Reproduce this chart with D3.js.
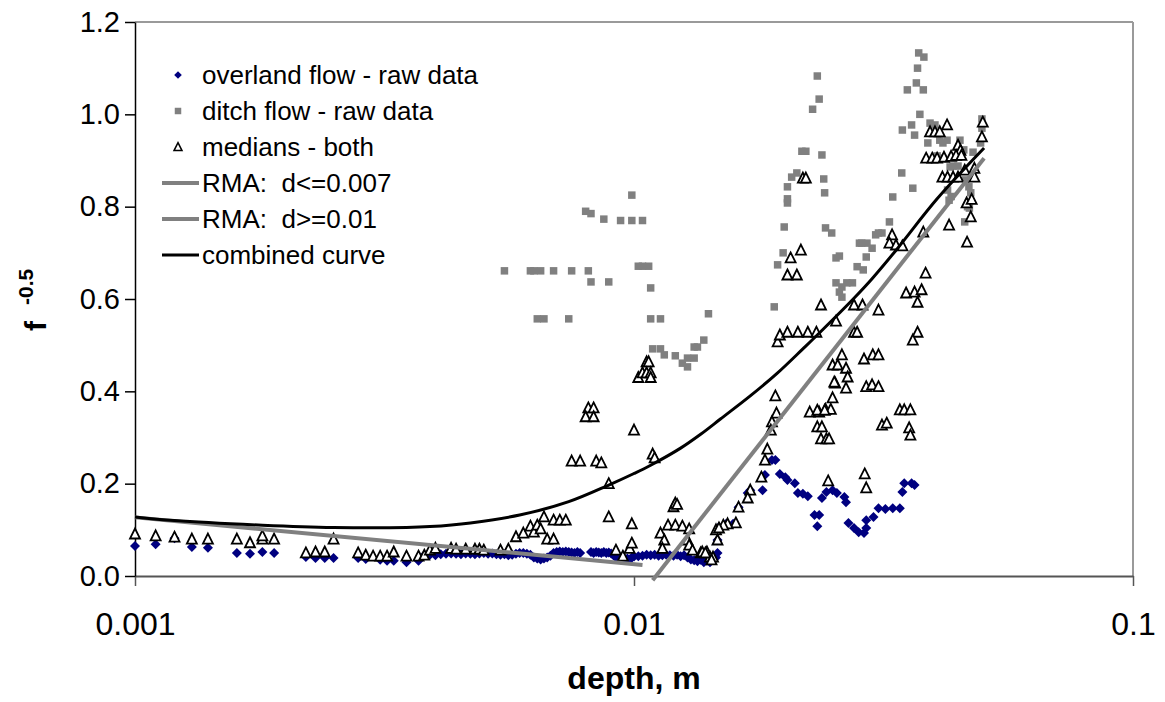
<!DOCTYPE html>
<html><head><meta charset="utf-8">
<script src="https://cdn.jsdelivr.net/npm/d3@7"></script>
<style>body{margin:0;background:#fff}</style>
</head><body><svg id="c" width="1165" height="702"></svg>
<script>
const xTicks = [0.001, 0.01, 0.1];
const yTicks = [0, 0.2, 0.4, 0.6, 0.8, 1.0, 1.2];
const legendLabels = ["overland flow - raw data", "ditch flow - raw data", "medians - both", "RMA:  d<=0.007", "RMA:  d>=0.01", "combined curve"];

const overland = [
[0.0010,0.065],[0.0011,0.069],[0.0012,0.082],[0.0013,0.063],[0.0014,0.061],[0.0016,0.050],[0.0017,0.048],[0.0018,0.052],[0.0019,0.050],[0.0022,0.041],[0.0023,0.039],[0.0024,0.039],[0.0025,0.039],[0.0028,0.039],[0.0029,0.037],[0.0031,0.035],[0.0032,0.033],[0.0033,0.033],[0.0035,0.030],[0.0037,0.033],
[0.0038,0.045],[0.0039,0.046],[0.0040,0.045],[0.0041,0.047],[0.0042,0.048],[0.0043,0.049],[0.0044,0.048],[0.0045,0.047],[0.0046,0.049],[0.0047,0.048],[0.0048,0.047],[0.0049,0.049],[0.0050,0.050],[0.0051,0.048],[0.0052,0.049],[0.0053,0.047],[0.0054,0.046],[0.0055,0.047],[0.0056,0.045],[0.0057,0.046],[0.0058,0.048],[0.0059,0.050],[0.0060,0.050],[0.0061,0.048],[0.0062,0.046],[0.0063,0.040],[0.0064,0.038],[0.0065,0.036],[0.0066,0.038],[0.0067,0.040],[0.0068,0.044],[0.0069,0.050],[0.0070,0.052],[0.0071,0.053],[0.0072,0.052],[0.0073,0.053],[0.0074,0.052],[0.0075,0.051],[0.0076,0.050],[0.0077,0.052],[0.0078,0.050],[0.0082,0.052],[0.0083,0.050],[0.0084,0.052],[0.0085,0.051],[0.0086,0.050],[0.0087,0.052],[0.0088,0.050],[0.0089,0.051],[0.0090,0.049],[0.0091,0.045],[0.0092,0.040],[0.0093,0.038],[0.0094,0.036],[0.0095,0.037],[0.0096,0.035],[0.0097,0.038],[0.0098,0.036],[0.0099,0.040],[0.0100,0.042],[0.0102,0.043],[0.0104,0.044],[0.0106,0.046],[0.0108,0.045],[0.0110,0.046],[0.0112,0.044],[0.0114,0.045],[0.0116,0.046],[0.0118,0.045],[0.0120,0.044],[0.0122,0.046],[0.0124,0.043],[0.0126,0.045],[0.0128,0.040],[0.0130,0.036],[0.0132,0.034],[0.0134,0.032],[0.0136,0.035],[0.0138,0.030],[0.0140,0.033],[0.0142,0.030],[0.0144,0.035],[0.0146,0.040],
[0.0147,0.050],[0.0147,0.078],[0.0148,0.106],[0.0153,0.113],[0.0158,0.113],[0.0162,0.149],[0.0169,0.180],[0.0171,0.186],[0.0181,0.186],[0.0183,0.219],[0.0189,0.251],[0.0192,0.251],[0.0196,0.221],[0.0201,0.214],[0.0203,0.208],[0.0210,0.201],[0.0213,0.180],[0.0218,0.178],[0.0223,0.173],[0.0230,0.132],[0.0235,0.132],[0.0233,0.108],[0.0238,0.169],[0.0243,0.182],[0.0250,0.186],[0.0255,0.180],[0.0264,0.171],[0.0266,0.160],[0.0269,0.115],[0.0276,0.104],[0.0282,0.095],[0.0289,0.093],[0.0292,0.104],[0.0292,0.121],[0.0302,0.128],[0.0309,0.147],[0.0319,0.145],[0.0330,0.147],[0.0341,0.147],[0.0345,0.182],[0.0348,0.201],[0.0360,0.201],[0.0365,0.197]
];

const ditch = [
[0.0055,0.661],[0.0062,0.661],[0.0063,0.661],[0.0065,0.661],[0.0069,0.661],[0.0075,0.661],[0.0081,0.661],[0.0082,0.637],[0.0089,0.637],[0.0102,0.671],[0.0104,0.671],[0.0107,0.671],[0.0108,0.624],[0.0064,0.557],[0.0066,0.557],[0.0074,0.557],[0.0108,0.557],[0.0113,0.557],[0.0141,0.568],[0.0138,0.511],[0.0134,0.496],[0.0132,0.496],[0.0109,0.492],[0.0113,0.492],[0.0115,0.479],[0.0121,0.477],[0.0125,0.461],[0.0128,0.453],[0.0132,0.472],[0.0128,0.472],
[0.0080,0.790],[0.0082,0.785],[0.0087,0.773],[0.0094,0.770],[0.0099,0.770],[0.0104,0.770],[0.0099,0.825],
[0.0233,1.083],[0.0235,1.033],[0.0228,1.011],[0.0217,0.920],[0.0221,0.920],[0.0238,0.912],[0.0212,0.873],[0.0207,0.864],[0.0240,0.860],[0.0203,0.843],[0.0203,0.817],[0.0203,0.808],[0.0241,0.830],[0.0200,0.756],[0.0242,0.754],[0.0249,0.743],[0.0199,0.700],[0.0194,0.674],[0.0191,0.583],[0.0254,0.689],[0.0258,0.693],[0.0283,0.721],[0.0286,0.721],[0.0293,0.721],[0.0305,0.739],[0.0309,0.743],[0.0314,0.743],[0.0325,0.767],[0.0292,0.691],[0.0280,0.670],[0.0288,0.663],[0.0300,0.710],[0.0254,0.635],[0.0258,0.615],[0.0261,0.604],[0.0261,0.626],[0.0267,0.635],[0.0274,0.635],[0.0330,0.821],[0.0344,0.873],[0.0362,0.840],[0.0345,0.966],[0.0360,0.977],[0.0374,1.000],[0.0392,0.981],[0.0401,0.977],[0.0353,1.053],[0.0368,1.068],[0.0380,1.053],[0.0370,1.100],[0.0372,1.133],[0.0381,1.124],[0.0388,0.938],[0.0410,0.944],[0.0424,0.944],[0.0405,0.910],[0.0415,0.905],[0.0430,0.886],[0.0436,0.888],[0.0446,0.888],[0.0425,0.836],[0.0432,0.822],[0.0458,0.923],[0.0478,0.918],[0.0498,0.990],[0.0498,0.970],[0.0469,0.843],[0.0466,0.800],[0.0460,0.767],[0.0416,0.938],[0.0365,0.955],[0.0428,0.814],[0.0462,0.858],[0.0473,0.830],[0.0470,0.797],[0.0495,0.938],[0.0450,0.944]
];

const medians = [
[0.0010,0.091],[0.0011,0.087],[0.0012,0.084],[0.0013,0.080],[0.0014,0.080],[0.0016,0.080],[0.0017,0.072],[0.0018,0.080],[0.0018,0.087],[0.0019,0.080],[0.0022,0.050],[0.0023,0.052],[0.0024,0.052],[0.0025,0.080],[0.0028,0.050],[0.0029,0.045],[0.0030,0.043],[0.0031,0.043],[0.0032,0.043],[0.0033,0.052],[0.0035,0.043],[0.0037,0.043],[0.0038,0.045],
[0.0039,0.056],[0.0040,0.060],[0.0043,0.060],[0.0044,0.058],[0.0046,0.058],[0.0048,0.058],[0.0049,0.058],[0.0050,0.056],[0.0054,0.056],[0.0056,0.058],[0.0058,0.085],[0.0060,0.093],[0.0062,0.108],[0.0063,0.095],[0.0064,0.110],[0.0065,0.102],[0.0066,0.128],[0.0067,0.080],[0.0069,0.080],[0.0069,0.121],[0.0071,0.121],[0.0073,0.121],[0.0089,0.200],[0.0089,0.128],[0.0099,0.113],[0.0120,0.150],[0.0121,0.158],[0.0122,0.155],[0.0113,0.093],[0.0115,0.078],[0.0117,0.110],[0.0121,0.110],[0.0125,0.108],[0.0129,0.102],[0.0114,0.060],[0.0092,0.056],[0.0095,0.043],[0.0098,0.060],[0.0099,0.071],[0.0128,0.078],[0.0129,0.067],[0.0131,0.056],[0.0136,0.050],[0.0137,0.052],[0.0140,0.052],[0.0142,0.041],[0.0144,0.041],[0.0146,0.100],
[0.0075,0.249],[0.0078,0.249],[0.0084,0.249],[0.0086,0.245],[0.0081,0.364],[0.0083,0.364],[0.0080,0.345],[0.0083,0.345],[0.0100,0.316],[0.0106,0.464],[0.0107,0.464],[0.0102,0.430],[0.0104,0.440],[0.0106,0.440],[0.0108,0.440],[0.0108,0.430],[0.0109,0.264],[0.0110,0.256],
[0.0192,0.390],[0.0193,0.353],[0.0189,0.334],[0.0188,0.316],[0.0185,0.275],[0.0183,0.251],[0.0180,0.214],[0.0171,0.186],[0.0169,0.169],[0.0162,0.149],[0.0160,0.115],[0.0154,0.113],[0.0151,0.110],[0.0148,0.104],[0.0147,0.078],[0.0139,0.050],[0.0143,0.035],
[0.0225,0.355],[0.0235,0.355],[0.0242,0.361],[0.0248,0.361],[0.0250,0.386],[0.0233,0.323],[0.0238,0.323],[0.0237,0.297],[0.0243,0.297],[0.0246,0.297],[0.0266,0.407],[0.0292,0.410],[0.0300,0.414],[0.0309,0.410],[0.0253,0.418],[0.0314,0.327],[0.0321,0.331],[0.0356,0.321],[0.0358,0.305],[0.0341,0.360],[0.0348,0.360],[0.0358,0.360],[0.0245,0.206],[0.0290,0.221],[0.0292,0.191],
[0.0218,0.862],[0.0221,0.862],[0.0216,0.706],[0.0206,0.689],[0.0203,0.652],[0.0212,0.652],[0.0237,0.587],[0.0194,0.507],[0.0196,0.522],[0.0203,0.528],[0.0213,0.528],[0.0223,0.528],[0.0232,0.528],[0.0254,0.552],[0.0276,0.528],[0.0280,0.528],[0.0276,0.587],[0.0287,0.587],[0.0309,0.576],[0.0329,0.739],[0.0325,0.721],[0.0335,0.717],[0.0345,0.715],[0.0380,0.745],[0.0428,0.760],[0.0465,0.723],[0.0384,0.656],[0.0351,0.613],[0.0365,0.615],[0.0377,0.620],[0.0370,0.593],[0.0370,0.528],[0.0362,0.511],[0.0261,0.479],[0.0250,0.457],[0.0256,0.457],[0.0266,0.450],[0.0268,0.431],[0.0252,0.420],[0.0289,0.470],[0.0301,0.479],[0.0309,0.479],[0.0233,0.359],[0.0241,0.359],
[0.0424,0.977],[0.0392,0.962],[0.0401,0.962],[0.0410,0.962],[0.0446,0.933],[0.0451,0.922],[0.0385,0.905],[0.0396,0.905],[0.0405,0.905],[0.0418,0.907],[0.0432,0.909],[0.0442,0.911],[0.0453,0.911],[0.0415,0.864],[0.0425,0.864],[0.0436,0.864],[0.0446,0.864],[0.0460,0.879],[0.0481,0.864],[0.0500,0.983],[0.0498,0.951],[0.0481,0.883],[0.0464,0.808],[0.0475,0.816],[0.0473,0.778]
];

const rmaSmallDepth = [0.001, 0.0104];
const rmaSmallValue = [0.127, 0.024];
const rmaLargeDepth = [0.0109, 0.0503];
const rmaLargeValue = [-0.009, 0.905];
const combinedDepth = [0.001,0.0012,0.0018,0.0025,0.0035,0.0039,0.0047,0.0059,0.0074,0.0089,0.01,0.0108,0.0124,0.0136,0.0149,0.0171,0.0194,0.0218,0.0236,0.0275,0.03,0.0337,0.0405,0.0503];
const combinedValue = [0.128,0.120,0.110,0.105,0.105,0.107,0.115,0.132,0.161,0.197,0.222,0.24,0.277,0.307,0.34,0.39,0.44,0.492,0.528,0.60,0.644,0.709,0.817,0.927];

const FONT = "'Liberation Sans', Arial, sans-serif";
const svg = d3.select("#c");
const x = d3.scaleLog().domain([0.001, 0.1]).range([135, 1133]);
const y = d3.scaleLinear().domain([0, 1.2]).range([576, 22]);

// plot frame (top/right)
svg.append("line").attr("x1", x(0.001)).attr("x2", x(0.1)).attr("y1", y(1.2)).attr("y2", y(1.2)).attr("stroke", "#9a9a9a").attr("stroke-width", 2);
svg.append("line").attr("x1", x(0.1)).attr("x2", x(0.1)).attr("y1", y(1.2)).attr("y2", y(0)).attr("stroke", "#9a9a9a").attr("stroke-width", 2);

// axes
const gx = svg.append("g").attr("transform", `translate(0,${y(0)})`)
  .call(d3.axisBottom(x).tickValues(xTicks).tickSize(10).tickSizeOuter(0).tickPadding(26).tickFormat(d => String(d)));
gx.select(".domain").attr("stroke", "#555").attr("stroke-width", 2);
gx.selectAll(".tick line").attr("stroke", "#555").attr("stroke-width", 1.5);
gx.selectAll("text").attr("font-family", FONT).attr("font-size", 32).attr("fill", "#000");

const gy = svg.append("g").attr("transform", `translate(${x(0.001)},0)`)
  .call(d3.axisLeft(y).tickValues(yTicks).tickSize(10).tickSizeOuter(0).tickPadding(5).tickFormat(d3.format(".1f")));
gy.select(".domain").attr("stroke", "#000").attr("stroke-width", 1.5);
gy.selectAll(".tick line").attr("stroke", "#000").attr("stroke-width", 1.5);
gy.selectAll("text").attr("font-family", FONT).attr("font-size", 29).attr("fill", "#000");

// titles
svg.append("text").attr("x", 634).attr("y", 689).attr("text-anchor", "middle")
  .attr("font-family", FONT).attr("font-size", 32).attr("font-weight", "bold").text("depth, m");
const yt = svg.append("text").attr("transform", "translate(46,331) rotate(-90)")
  .attr("font-family", FONT).attr("font-weight", "bold").attr("font-size", 30);
yt.append("tspan").text("f");
yt.append("tspan").attr("dx", 16).attr("dy", -13).attr("font-size", 21).text("-0.5");

// marker shapes
const diamondPath = r => `M0,${-r}L${r},0L0,${r}L${-r},0Z`;
const squarePath = s => `M${-s/2},${-s/2}h${s}v${s}h${-s}Z`;
const trianglePath = s => `M0,${-s*0.55}L${s/2},${s*0.45}L${-s/2},${s*0.45}Z`;

svg.append("g").selectAll("path").data(overland).join("path")
  .attr("d", diamondPath(5)).attr("transform", d => `translate(${x(d[0])},${y(d[1])})`)
  .attr("fill", "#000080");
svg.append("g").selectAll("path").data(ditch).join("path")
  .attr("d", squarePath(7.5)).attr("transform", d => `translate(${x(d[0])},${y(d[1])})`)
  .attr("fill", "#808080");
svg.append("g").selectAll("path").data(medians).join("path")
  .attr("d", trianglePath(10)).attr("transform", d => `translate(${x(d[0])},${y(d[1])})`)
  .attr("fill", "#fff").attr("stroke", "#000").attr("stroke-width", 1.8);

// lines
const line = d3.line().x(d => x(d[0])).y(d => y(d[1]));
svg.append("path").datum(d3.zip(rmaSmallDepth, rmaSmallValue)).attr("d", line)
  .attr("fill", "none").attr("stroke", "#808080").attr("stroke-width", 4);
svg.append("path").datum(d3.zip(rmaLargeDepth, rmaLargeValue)).attr("d", line)
  .attr("fill", "none").attr("stroke", "#808080").attr("stroke-width", 4);
const smooth = d3.line().x(d => x(d[0])).y(d => y(d[1])).curve(d3.curveCatmullRom.alpha(0.5));
svg.append("path").datum(d3.zip(combinedDepth, combinedValue)).attr("d", smooth)
  .attr("fill", "none").attr("stroke", "#000").attr("stroke-width", 3);

// legend
const lg = svg.append("g").attr("font-family", FONT).attr("font-size", 26);
const rowY = i => 75 + i * 36;
legendLabels.forEach((t, i) => {
  lg.append("text").attr("x", 202).attr("y", rowY(i)).attr("dy", "0.35em")
    .attr("xml:space", "preserve").style("white-space", "pre").text(t);
});
lg.append("path").attr("d", diamondPath(3.8)).attr("transform", `translate(178,${rowY(0)})`).attr("fill", "#000080");
lg.append("path").attr("d", squarePath(6.5)).attr("transform", `translate(178,${rowY(1)})`).attr("fill", "#808080");
lg.append("path").attr("d", trianglePath(8)).attr("transform", `translate(178,${rowY(2)})`).attr("fill", "#fff").attr("stroke", "#000").attr("stroke-width", 1.5);
[["#808080", 4], ["#808080", 4], ["#000", 3]].forEach((s, k) => {
  lg.append("line").attr("x1", 162).attr("x2", 199).attr("y1", rowY(3 + k)).attr("y2", rowY(3 + k))
    .attr("stroke", s[0]).attr("stroke-width", s[1]);
});
</script></body></html>
